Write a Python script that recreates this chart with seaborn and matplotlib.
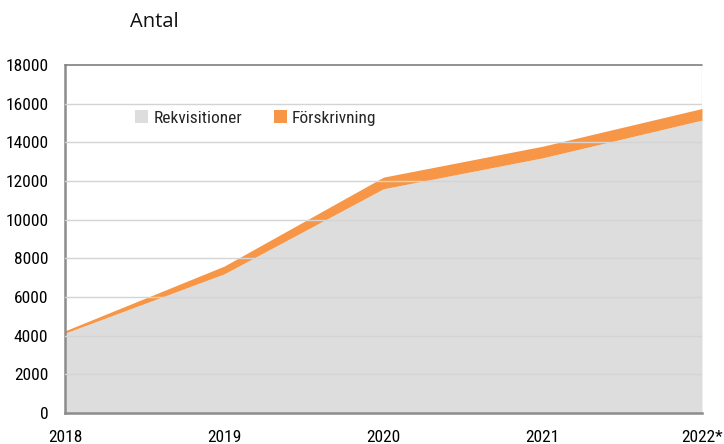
import matplotlib
matplotlib.use("Agg")
import matplotlib.pyplot as plt
import seaborn as sns
import pandas as pd
from matplotlib.patches import Patch

years = ["2018", "2019", "2020", "2021", "2022*"]
rekvisitioner = [4130, 7200, 11600, 13200, 15150]
forskrivning = [120, 400, 600, 600, 600]

y_ticks = list(range(0, 18001, 2000))

df = pd.DataFrame({"År": years, "Rekvisitioner": rekvisitioner, "Förskrivning": forskrivning})

sns.set_theme(style="white")
plt.rcParams["font.family"] = ["Roboto Condensed", "DejaVu Sans"]

fig = plt.figure(figsize=(7.24, 4.44), dpi=100)
ax = fig.add_axes([65 / 724, 1 - 413 / 444, (702 - 65) / 724, (413 - 65) / 444])

x = list(range(len(df)))
ax.stackplot(x, df["Rekvisitioner"], df["Förskrivning"],
             colors=["#DDDDDD", "#F79646"], linewidth=0, zorder=2)

ax.set_xlim(0, len(df) - 1)
ax.set_ylim(0, 18000)
ax.set_yticks(y_ticks)
ax.set_yticklabels([str(v) for v in y_ticks], fontsize=12.5)
ax.set_xticks(x)
ax.set_xticklabels(df["År"], fontsize=12.5)

for v in y_ticks[1:-1]:
    ax.axhline(v, color="#D4D4D4", linewidth=1.0, zorder=3)
ax.grid(False)

for side in ["top", "right"]:
    ax.spines[side].set_visible(False)
ax.spines["left"].set_color("#8C8C8C")
ax.spines["left"].set_linewidth(1.8)
ax.spines["bottom"].set_color("#8C8C8C")
ax.spines["bottom"].set_linewidth(1.8)
ax.axhline(18000, color="#7F7F7F", linewidth=1.2, zorder=4, clip_on=False)
ax.axvline(len(df) - 1, color="#E0E0E0", linewidth=1.0, zorder=1)

ax.tick_params(axis="x", direction="out", length=6, width=1.5, color="#222222", pad=6, labelcolor="black")
ax.tick_params(axis="y", length=0, pad=12, labelcolor="black")

handles = [Patch(facecolor="#DDDDDD", edgecolor="none"),
           Patch(facecolor="#F79646", edgecolor="none")]
ax.legend(handles, ["Rekvisitioner", "Förskrivning"], ncol=2, frameon=False,
          loc="upper left", bbox_to_anchor=(0.086, 0.915), fontsize=12.5,
          handlelength=0.75, handleheight=0.75, handletextpad=0.3, columnspacing=1.8)

fig.text(130 / 724, 1 - 22 / 444, "Antal", fontsize=14.5, family=["Open Sans", "DejaVu Sans"],
         va="center", ha="left", color="#111111")

fig.savefig("out.png", dpi=100)
